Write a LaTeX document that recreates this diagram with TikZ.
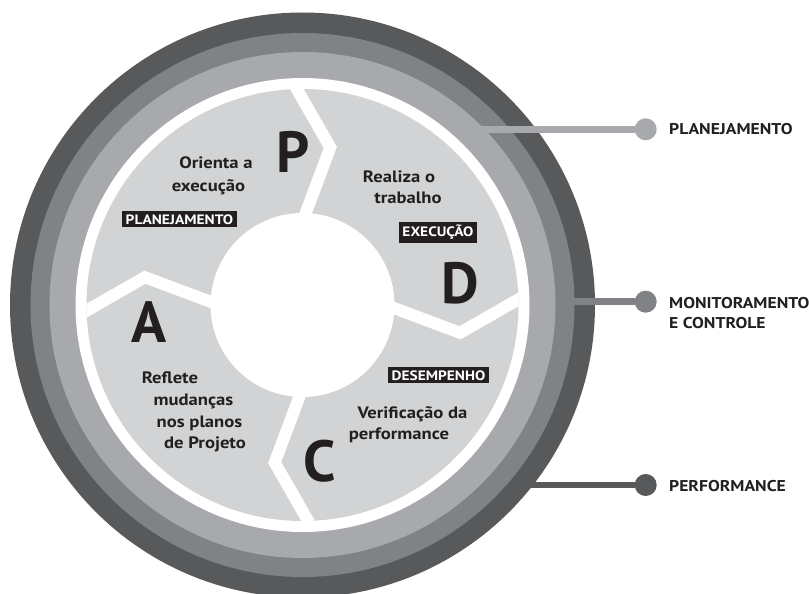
\documentclass[tikz,border=0pt]{standalone}
\usepackage{fontspec}
\setmainfont{PT Sans}[FakeStretch=1.13]
\newfontfamily\letterfont{PT Sans}
\usetikzlibrary{calc}
\definecolor{ringdark}{HTML}{58595B}
\definecolor{ringmid}{HTML}{808285}
\definecolor{ringlight}{HTML}{A7A9AC}
\definecolor{sectorfill}{HTML}{D1D3D4}
\definecolor{ink}{HTML}{231F20}

\begin{document}
\begin{tikzpicture}[x=1pt,y=-1pt,
  every node/.style={inner sep=0pt, text=ink},
  body/.style={anchor=base, font=\fontsize{16.5}{20}\selectfont\bfseries},
  letter/.style={anchor=base, font=\fontsize{58}{60}\selectfont\letterfont\bfseries},
  tag/.style={anchor=base, fill=ink, text=white, inner xsep=3.5pt, inner ysep=3pt,
    font=\fontsize{13.6}{15}\selectfont\bfseries},
  side/.style={anchor=base west, font=\fontsize{15.6}{19}\selectfont\bfseries},
  dot/.style={circle, minimum size=22pt, inner sep=0pt},
  link/.style={line width=6.5pt},
  sepband/.style={draw=white, line width=12pt, line join=miter},
]
\useasboundingbox (0,0) rectangle (809,594);
\clip (0,0) rectangle (809,594);

% concentric rings
\coordinate (c) at (302.5,305);
\fill[ringdark]   (c) circle[radius=292.5pt];
\fill[ringmid]    (c) circle[radius=272pt];
\fill[ringlight]  (c) circle[radius=253pt];
\fill[white]      (c) circle[radius=227pt];
\fill[sectorfill] (c) circle[radius=216pt];

% chevron separators between the four phases
\begin{scope}
  \clip (c) circle[radius=216pt];
  \foreach \b in {-90,0,90,180}{
    \coordinate (si) at ($(c)+(\b+2:92)$);
    \coordinate (st) at ($(c)+(\b+10:160)$);
    \coordinate (so) at ($(c)+(\b-1.5:216)$);
    \draw[sepband] ($(st)!1.3!(si)$) -- (st) -- ($(st)!1.3!(so)$);
  }
\end{scope}
\fill[white] (c) circle[radius=92pt];

% phase letters
\node[letter] (lp) at (293,172) {P};
\node[letter] (ld) at (460,303) {D};
\node[letter] (lc) at (320,481) {C};
\node[letter] (la) at (149,342) {A};

% phase descriptions
\node[body] (p1) at (216,168.5) {Orienta a};
\node[body] (p2) at (208.5,191) {execução};
\node[body] (d1) at (399,182) {Realiza o};
\node[body] (d2) at (408,203) {trabalho};
\node[body] (a1) at (170,383) {Reflete};
\node[body] (a2) at (193.5,405) {mudanças};
\node[body] (a3) at (199.5,427) {nos planos};
\node[body] (a4) at (205,448) {de Projeto};
\node[body] (c1) at (412.5,418) {Verificação da};
\node[body] (c2) at (399,439) {performance};

% tags
\node[tag] (tp) at (179.5,224) {PLANEJAMENTO};
\node[tag] (td) at (438,236.7) {EXECUÇÃO};
\node[tag] (tc) at (438.5,380) {DESEMPENHO};

% legend connectors
\coordinate (pl0) at (478,129.3);
\node[dot, fill=ringlight] (pl) at (645.7,129.3) {};
\draw[link, ringlight] (pl0) -- (pl);
\node[side] (plt) at (669,134) {PLANEJAMENTO};

\coordinate (mc0) at (568,301.7);
\node[dot, fill=ringmid] (mc) at (645.7,301.7) {};
\draw[link, ringmid] (mc0) -- (mc);
\node[side] (mct1) at (669,308) {MONITORAMENTO};
\node[side] (mct2) at (669,328) {E CONTROLE};

\coordinate (pf0) at (526,485);
\node[dot, fill=ringdark] (pf) at (645.7,485) {};
\draw[link, ringdark] (pf0) -- (pf);
\node[side] (pft) at (669,491.7) {PERFORMANCE};
\end{tikzpicture}
\end{document}
